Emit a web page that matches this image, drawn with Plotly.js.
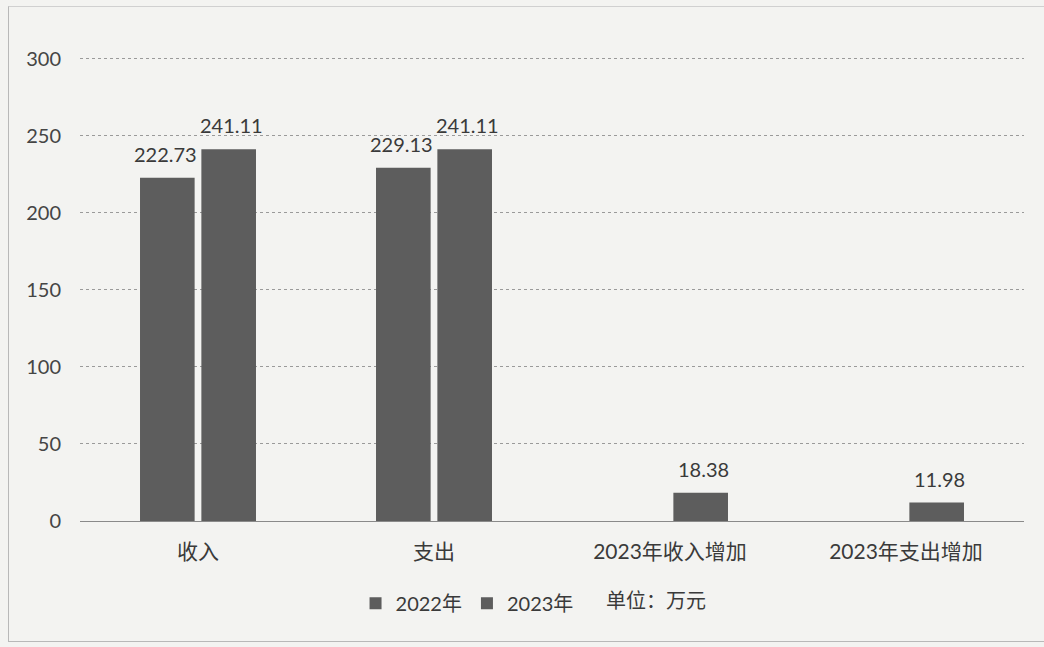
<!DOCTYPE html>
<html><head><meta charset="utf-8">
<script src="https://cdn.plot.ly/plotly-3.0.1.min.js"></script>
<style>
html,body{margin:0;padding:0;background:#f3f3f1;}
#frame{position:absolute;left:8px;top:6px;width:1040px;height:634px;border-left:1px solid #b8b8b8;border-top:1px solid #d0d0d0;border-bottom:1px solid #b8b8b8;}
#chart{position:absolute;left:0;top:0;width:1044px;height:647px;}
</style></head><body>
<div id="frame"></div>
<div id="chart"></div>
<script>
const categories = ['收入', '支出', '2023年收入增加', '2023年支出增加'];
const values2022 = [222.73, 229.13, null, null];
const values2023 = [241.11, 241.11, 18.38, 11.98];
const seriesNames = ['2022年', '2023年'];
const unitNote = '单位：万元';
const yTicks = [0, 50, 100, 150, 200, 250, 300];

const font = '"Lato", "Noto Sans CJK SC", sans-serif';
const barColor = '#5d5d5d';
const textColor = '#3a3a3a';

const traces = [
  {type:'bar', name:seriesNames[0], x:categories, y:values2022, marker:{color:barColor}},
  {type:'bar', name:seriesNames[1], x:categories, y:values2023, marker:{color:barColor}}
];

// data labels placed above each bar, derived from the data arrays
const labelAnns = [];
[values2022, values2023].forEach((vals, si) => {
  vals.forEach((v, i) => {
    if (v == null) return;
    labelAnns.push({xref:'x', yref:'y', x:categories[i], y:v, text:v.toFixed(2),
      showarrow:false, yanchor:'bottom', xanchor:'center', yshift:10,
      xshift: si === 0 ? -33 : 33,
      font:{size:20, family:font, color:textColor}});
  });
});

const layout = {
  width:1044, height:647,
  paper_bgcolor:'rgba(0,0,0,0)', plot_bgcolor:'rgba(0,0,0,0)',
  margin:{l:80, r:20, t:57, b:126},
  barmode:'group', bargap:0.48, bargroupgap:0.11,
  font:{family:font, color:textColor},
  xaxis:{type:'category', tickfont:{size:21, family:font, color:textColor},
         showline:false, ticks:'outside', ticklen:12, tickcolor:'rgba(0,0,0,0)', showgrid:false},
  yaxis:{range:[0,301], tickvals:yTicks, tickfont:{size:20, family:font, color:'#454545'},
         showgrid:true, gridcolor:'#9a9a9a', griddash:'dot', gridwidth:1,
         zeroline:true, zerolinecolor:'#8a8a8a', zerolinewidth:1,
         ticks:'', ticklabelstandoff:18, showline:false, automargin:false},
  showlegend:true,
  legend:{orientation:'h', x:0.41, xanchor:'center', y:-0.135, yanchor:'top',
          font:{size:20, family:font, color:textColor}, itemwidth:30, tracegroupgap:0},
  annotations:labelAnns.concat([{xref:'paper', yref:'paper', x:0.61, y:-0.14, xanchor:'center', yanchor:'top',
     text:unitNote, showarrow:false, font:{size:20, family:font, color:textColor}}])
};
Plotly.newPlot('chart', traces, layout, {displayModeBar:false, staticPlot:true});
</script>
</body></html>
